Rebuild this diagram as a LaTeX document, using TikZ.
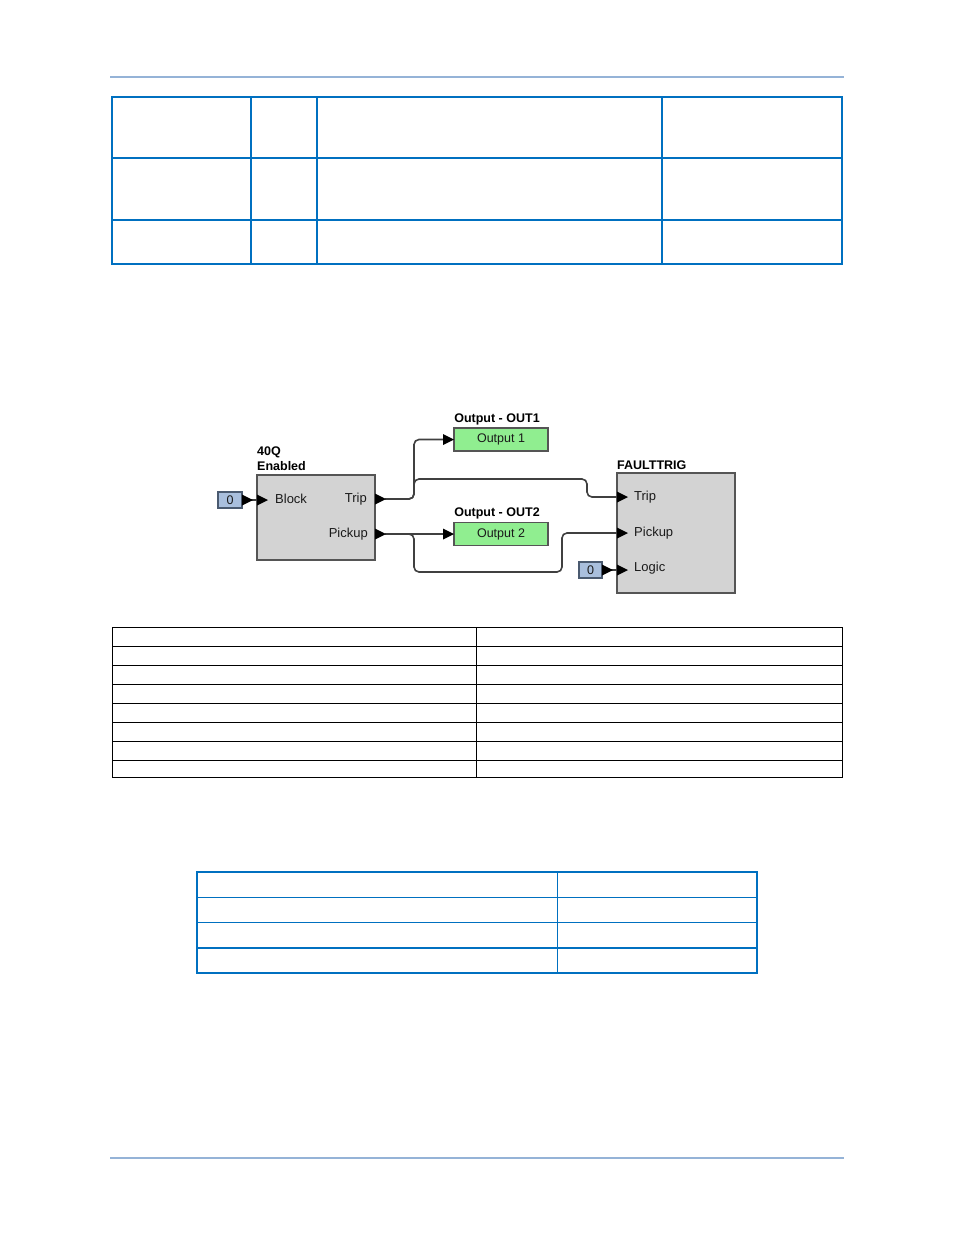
\documentclass[tikz,border=0pt]{standalone}
\usepackage{fontspec}
\setmainfont{Liberation Sans}
\usetikzlibrary{arrows.meta}
\definecolor{hdr}{HTML}{95B3D7}
\definecolor{tblue}{HTML}{0070C0}
\definecolor{blockfill}{HTML}{D3D3D3}
\definecolor{outfill}{HTML}{90EE90}
\definecolor{constfill}{HTML}{A9BFDD}
\definecolor{constedge}{HTML}{4A5A70}
\definecolor{wirec}{HTML}{404040}
\definecolor{edgec}{HTML}{555555}
\definecolor{txt}{HTML}{1A1A1A}
\begin{document}
\begin{tikzpicture}[x=1pt,y=-1pt,
  blk/.style={draw=edgec, line width=1.4pt, fill=blockfill, inner sep=0pt, outer sep=0pt, anchor=north west},
  outbox/.style={draw=edgec, line width=1.2pt, fill=outfill, inner sep=0pt, outer sep=0pt, minimum width=94pt, minimum height=23pt, text=txt, font=\fontsize{12.5}{14}\selectfont},
  constbox/.style={draw=constedge, line width=1.2pt, fill=constfill, inner sep=0pt, outer sep=0pt, minimum height=16pt, text=txt, font=\fontsize{12.5}{14}\selectfont},
  portlbl/.style={inner sep=0pt, text=txt, font=\fontsize{13}{15}\selectfont},
  title/.style={inner sep=0pt, font=\fontsize{12.5}{14.5}\selectfont\bfseries, align=left},
  wire/.style={draw=wirec, line width=1.6pt, rounded corners=5pt},
  tri/.pic={\fill[black] (0,-5.5) -- (11,0) -- (0,5.5) -- cycle;},
  tbl/.style={draw=tblue, line width=1.2pt},
  tblk/.style={draw=black, line width=1pt}
]
\useasboundingbox (0,0) rectangle (954,1235);
\fill[white] (0,0) rectangle (954,1235);

% header / footer rules
\draw[hdr, line width=2pt] (110,77) -- (844,77);
\draw[hdr, line width=2pt] (110,1158) -- (844,1158);

% top table
\draw[tbl] (112,97) rectangle (842,264);
\draw[tbl] (112,158) -- (842,158);
\draw[tbl] (112,220) -- (842,220);
\draw[tbl] (251,97) -- (251,264);
\draw[tbl] (317,97) -- (317,264);
\draw[tbl] (662,97) -- (662,264);

% middle table
\draw[tblk] (112,627) rectangle (842,777);
\foreach \yy in {646,665,684,703,722,741,760} {\draw[tblk] (112,\yy) -- (842,\yy);}
\draw[tblk] (476.5,627) -- (476.5,777);

% bottom table
\draw[tbl] (197,872) rectangle (757,973);
\foreach \yy in {897.5,922.5,948} {\draw[tbl] (197,\yy) -- (757,\yy);}
\draw[tbl] (557.5,872) -- (557.5,973);

% ---------- diagram ----------
% 40Q block
\node[blk, minimum width=118pt, minimum height=85pt] (q) at (257,475) {};
\node[title, anchor=south west] (qtitle) at (257,471) {40Q\\[0.5pt]Enabled};
\node[portlbl, anchor=west] (qblock) at (275,499) {Block};
\node[portlbl, anchor=east] (qtriplbl) at (367,499) {Trip};
\node[portlbl, anchor=east] (qpicklbl) at (368,534) {Pickup};

% FAULTTRIG block
\node[blk, minimum width=118pt, minimum height=120pt] (f) at (617,473) {};
\node[title, anchor=south west] (ftitle) at (617,470) {FAULTTRIG};
\node[portlbl, anchor=west] (ftriplbl) at (634,497) {Trip};
\node[portlbl, anchor=west] (fpicklbl) at (634,533) {Pickup};
\node[portlbl, anchor=west] (floglbl) at (634,568) {Logic};

% outputs
\node[outbox] (o1) at (501,439.5) {Output 1};
\node[title, anchor=south] (o1t) at (497,425) {Output - OUT1};
\node[outbox] (o2) at (501,534) {Output 2};
\node[title, anchor=south] (o2t) at (497,519) {Output - OUT2};

% constants
\node[constbox, minimum width=24pt] (c1) at (230,500) {0};
\node[constbox, minimum width=23pt] (c2) at (590.5,570) {0};

% port coordinates
\coordinate (qtrip) at (385,499);
\coordinate (qpick) at (385,534);
\coordinate (o1in) at (443,439.5);
\coordinate (o2in) at (443,534);
\coordinate (ftrip) at (617,497);
\coordinate (fpick) at (617,533);
\coordinate (flog) at (617,570);
\coordinate (qblk) at (257,500);

% wires
\draw[wire] (c1.east) -- (qblk);
\draw[wire] (c2.east) -- (flog);
\draw[wire] (qtrip) -- (414,499) -- (414,439.5) -- (o1in);
\draw[wire] (qtrip) -- (414,499) -- (414,479) -- (587,479) -- (587,497) -- (ftrip);
\draw[wire] (qpick) -- (o2in);
\draw[wire] (qpick) -- (414,534) -- (414,572) -- (562,572) -- (562,533) -- (fpick);

% port triangles
\pic at (375,499) {tri};
\pic at (375,534) {tri};
\pic at (443,439.5) {tri};
\pic at (443,534) {tri};
\pic at (617,497) {tri};
\pic at (617,533) {tri};
\pic at (617,570) {tri};
\pic at (257,500) {tri};
\pic at (242,500) {tri};
\pic at (602,570) {tri};
\end{tikzpicture}
\end{document}
